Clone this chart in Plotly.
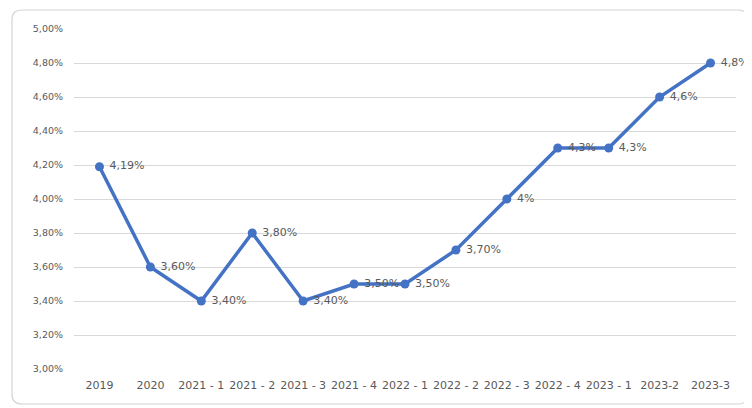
import plotly.graph_objects as go

periods = ["2019", "2020", "2021 - 1", "2021 - 2", "2021 - 3", "2021 - 4",
           "2022 - 1", "2022 - 2", "2022 - 3", "2022 - 4", "2023 - 1",
           "2023-2", "2023-3"]
rates = [0.0419, 0.0360, 0.0340, 0.0380, 0.0340, 0.0350, 0.0350,
         0.0370, 0.0400, 0.0430, 0.0430, 0.0460, 0.0480]
labels = ["4,19%", "3,60%", "3,40%", "3,80%", "3,40%", "3,50%", "3,50%",
          "3,70%", "4%", "4,3%", "4,3%", "4,6%", "4,8%"]

BLUE = "#4472c4"
INK = "#595959"
FONT = "DejaVu Sans, Verdana, sans-serif"

fig = go.Figure(go.Scatter(
    x=periods, y=rates, mode="lines+markers+text",
    line=dict(color=BLUE, width=3.5),
    marker=dict(size=9, color=BLUE),
    text=[" " + s for s in labels], textposition="middle right",
    textfont=dict(family=FONT, size=11, color=INK),
    cliponaxis=False,
))

# rounded chart-area frame, in paper units (plot area is 662 x 340 px)
fx0, fx1, fy0, fy1 = -0.0937, 1.0181, -0.1029, 1.0559
rx, ry = 0.0151, 0.0294
frame = (f"M {fx0},{fy0 + ry} L {fx0},{fy1 - ry} Q {fx0},{fy1} {fx0 + rx},{fy1} "
         f"L {fx1 - rx},{fy1} Q {fx1},{fy1} {fx1},{fy1 - ry} "
         f"L {fx1},{fy0 + ry} Q {fx1},{fy0} {fx1 - rx},{fy0} "
         f"L {fx0 + rx},{fy0} Q {fx0},{fy0} {fx0},{fy0 + ry} Z")

fig.update_layout(
    width=744, height=400,
    paper_bgcolor="white", plot_bgcolor="white",
    margin=dict(l=66, r=16, t=21, b=39, autoexpand=False),
    separators=", ",
    showlegend=False,
    font=dict(family=FONT, size=10, color=INK),
    shapes=[dict(type="path", xref="paper", yref="paper", layer="below",
                 path=frame, line=dict(color="#d4d4d4", width=1.2))],
)
fig.update_xaxes(range=[-0.5, 12.5], showgrid=False, showline=False,
                 ticks="", type="category", automargin=False,
                 ticklabelstandoff=8,
                 tickfont=dict(size=11, color=INK))
fig.update_yaxes(range=[0.03, 0.05], dtick=0.002, tickformat=".2%",
                 gridcolor="#d9d9d9", gridwidth=1, zeroline=False,
                 automargin=False, showline=False, ticks="",
                 ticklabelstandoff=10,
                 tickfont=dict(size=9.5, color=INK))

fig.write_html("out.html")
